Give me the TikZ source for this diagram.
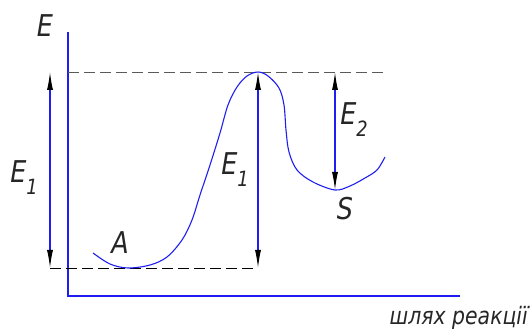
\documentclass[tikz,border=0pt]{standalone}
\usepackage{fontspec}
\setmainfont{DejaVu Sans}[FakeStretch=0.85]
\usetikzlibrary{arrows.meta}
\definecolor{axisblue}{RGB}{30,30,240}
\tikzset{
  axisline/.style={axisblue, line width=1.3pt},
  curveline/.style={axisblue, line width=1.1pt},
  dimline/.style={axisblue, line width=1.1pt, {Latex[black,length=18pt,width=6pt]}-{Latex[black,length=18pt,width=6pt]}},
  guide/.style={dash pattern=on 11pt off 5pt, line width=0.8pt},
  lbl/.style={font=\fontsize{30}{30}\selectfont\itshape, inner sep=0pt, text=black!85},
  lblsmall/.style={font=\fontsize{24}{24}\selectfont\itshape, inner sep=0pt, text=black!85}
}
\newcommand{\subE}[1]{E\raisebox{-0.4em}{\fontsize{21}{21}\selectfont #1}}
\begin{document}
\begin{tikzpicture}[x=1pt, y=-1pt]
\useasboundingbox (0,0) rectangle (531,334);
% axes
\coordinate (ytop) at (68,32);
\coordinate (orig) at (68,296);
\coordinate (xend) at (460,296);
\draw[axisline] (ytop) -- (orig) -- (xend);
% levels
\coordinate (peak) at (258,72);
\coordinate (topend) at (388,72);
\coordinate (topstart) at (68,72);
\coordinate (lowL) at (50,268);
\coordinate (lowR) at (258,268);
\coordinate (leftTop) at (50,72);
\coordinate (e2top) at (335,72);
\coordinate (e2bot) at (335,190);
\draw[guide, black!65] (topstart) -- (topend);
\draw[guide, black] (lowL) -- (lowR);
% curve
\draw[curveline] plot[smooth, tension=0.55] coordinates {
 (93,253) (110,264) (128,268) (150,265) (167,257) (182,240) (192,220) (200,195)
 (210,165) (220,133) (228,105) (237,87) (247,76) (258,72) (268,76) (279,88)
 (284,105) (286,130) (289,152) (297,170) (313,182) (335,190) (350,186) (365,178)
 (377,170) (385,157)};
% dimension arrows
\draw[dimline] (lowL) -- (leftTop);
\draw[dimline] (lowR) -- (peak);
\draw[dimline] (e2top) -- (e2bot);
% labels
\node[lbl] (lE) at (45,26) {E};
\node[lbl] (lE1a) at (24,178) {\subE{1}};
\node[lbl] (lE1b) at (235,170) {\subE{1}};
\node[lbl] (lE2) at (354,120) {\subE{2}};
\node[lbl] (lA) at (120,243) {A};
\node[lbl] (lS) at (345,209) {S};
\node[lblsmall, anchor=east] (lx) at (528,318) {шлях реакції};
\end{tikzpicture}
\end{document}
